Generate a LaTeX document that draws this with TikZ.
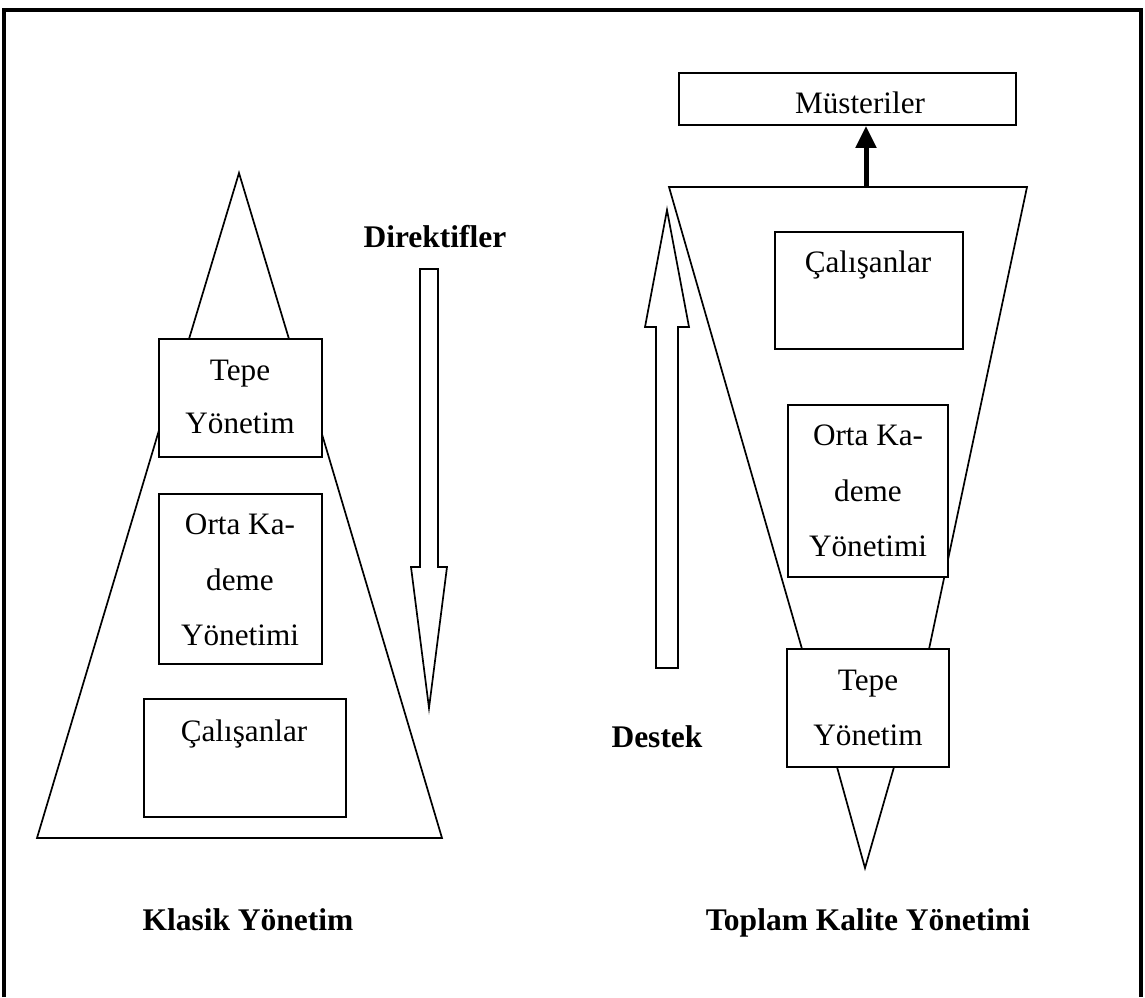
\documentclass[tikz,border=0pt]{standalone}
\usepackage{fontspec}
\setmainfont{Liberation Serif}
\usetikzlibrary{arrows.meta}
\begin{document}
\begin{tikzpicture}[x=1pt,y=-1pt,
  thin/.style={line width=1.7pt, line join=miter},
  box/.style={thin, draw, fill=white, rectangle, inner sep=0pt},
  lbl/.style={anchor=base, inner sep=0pt, font=\fontsize{31.2}{36}\selectfont},
  blbl/.style={anchor=base, inner sep=0pt, font=\fontsize{31.5}{36}\selectfont\bfseries}]
\useasboundingbox (0,0) rectangle (1145,997);
% frame (open at bottom)
\draw[line width=4pt] (4,997) -- (4,10) -- (1141,10) -- (1141,997);

% ---------- Klasik Yonetim ----------
\draw[thin] (186,340) -- (294,340) -- (442,838) -- (37,838) -- cycle;
\draw[thin] (189,339) -- (239,173) -- (289,339);
\node[box, minimum width=163pt, minimum height=118pt] (ltepe) at (240.5,398) {};
\node[box, minimum width=163pt, minimum height=170pt] (lorta) at (240.5,579) {};
\node[box, minimum width=202pt, minimum height=118pt] (lcal) at (245,758) {};
\node[lbl] (ltepe1) at (240,380) {Tepe};
\node[lbl] (ltepe2) at (240,433) {Yönetim};
\node[lbl] (lorta1) at (240,534) {Orta Ka-};
\node[lbl] (lorta2) at (240,590) {deme};
\node[lbl] (lorta3) at (240,645) {Yönetimi};
\node[lbl] (lcal1) at (244,741) {Çalışanlar};
% Direktifler arrow
\draw[thin] (420,269) -- (438,269) -- (438,567) -- (447,567) -- (429,708)
  -- (411,567) -- (420,567) -- cycle;
\node[blbl] (dir) at (435,247) {Direktifler};
\node[blbl] (klasik) at (248,930) {Klasik Yönetim};

% ---------- Toplam Kalite Yonetimi ----------
\draw[thin] (669,187) -- (1027,187) -- (904,767) -- (836,767) -- cycle;
\draw[thin] (837,767) -- (865,868) -- (894,767);
\node[box, minimum width=188pt, minimum height=117pt] (rcal) at (869,290.5) {};
\node[box, minimum width=160pt, minimum height=172pt] (rorta) at (868,491) {};
\node[box, minimum width=162pt, minimum height=118pt] (rtepe) at (868,708) {};
\node[box, minimum width=337pt, minimum height=52pt] (mus) at (847.5,99) {};
\node[lbl] (rcal1) at (868,272) {Çalışanlar};
\node[lbl] (rorta1) at (868,445) {Orta Ka-};
\node[lbl] (rorta2) at (868,501) {deme};
\node[lbl] (rorta3) at (868,556) {Yönetimi};
\node[lbl] (rtepe1) at (868,690) {Tepe};
\node[lbl] (rtepe2) at (868,745) {Yönetim};
\node[lbl] (mus1) at (860,113) {Müsteriler};
\coordinate (trtop) at (866,187);
\draw[line width=5pt, -{Triangle[length=22pt,width=20pt]}] (trtop) -- (mus.south -| trtop);
% Destek arrow
\draw[thin] (656,668) -- (678,668) -- (678,327) -- (689,327) -- (667,210)
  -- (645,327) -- (656,327) -- cycle;
\node[blbl] (destek) at (657,747) {Destek};
\node[blbl] (tky) at (868,930) {Toplam Kalite Yönetimi};
\end{tikzpicture}
\end{document}
